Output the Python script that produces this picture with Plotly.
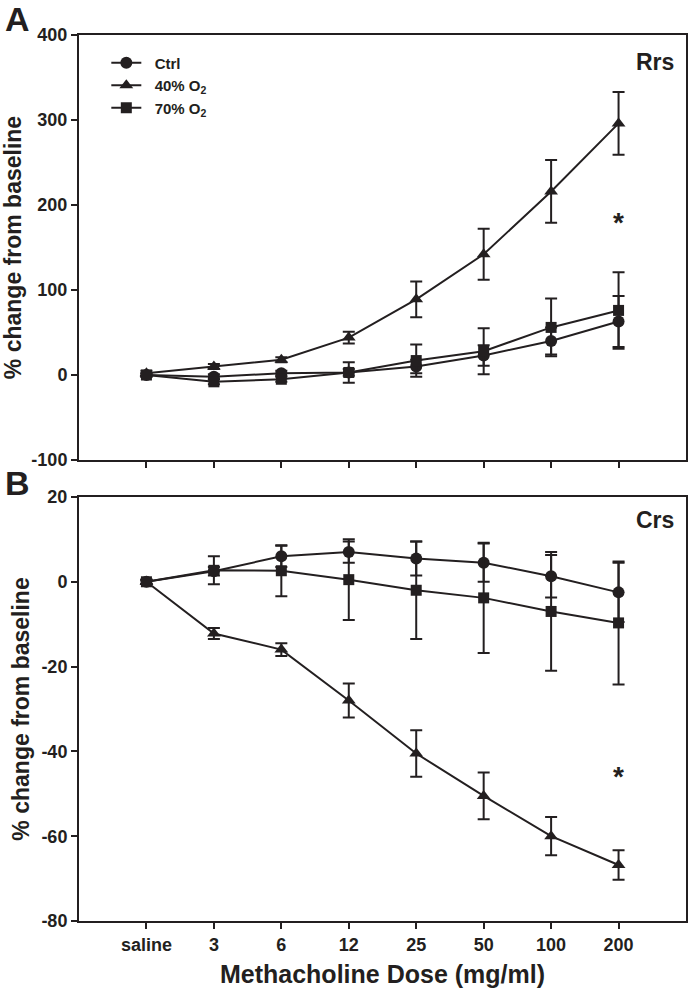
import plotly.graph_objects as go

doses = ["saline", "3", "6", "12", "25", "50", "100", "200"]
xi = list(range(len(doses)))

# Panel A: Rrs (% change from baseline)
rrs_ctrl = [0, -2, 2, 3, 10, 23, 40, 63]
rrs_ctrl_err = [2, 3, 3, 4, 8, 12, 16, 30]
rrs_40 = [2, 10, 18, 44, 89, 142, 216, 296]
rrs_40_err = [3, 3, 3, 7, 21, 30, 37, 37]
rrs_70 = [0, -8, -5, 3, 17, 28, 56, 76]
rrs_70_err = [2, 3, 3, 12, 19, 27, 34, 45]

# Panel B: Crs (% change from baseline)
crs_ctrl = [0, 2.5, 6, 7, 5.5, 4.5, 1.3, -2.5]
crs_ctrl_err = [0.5, 1, 2.5, 2.5, 4, 4.5, 5, 7]
crs_40 = [0, -12.2, -16, -28, -40.5, -50.5, -60, -66.8]
crs_40_err = [0.5, 1.3, 1.5, 4, 5.5, 5.5, 4.5, 3.5]
crs_70 = [0, 2.7, 2.6, 0.5, -2, -3.8, -7, -9.7]
crs_70_err = [0.5, 3.3, 6, 9.5, 11.5, 13, 14, 14.5]

ticksA = [-100, 0, 100, 200, 300, 400]
ticksB = [-80, -60, -40, -20, 0, 20]

names = ["&nbsp;&nbsp;Ctrl", "&nbsp;&nbsp;40% O<sub>2</sub>", "&nbsp;&nbsp;70% O<sub>2</sub>"]
symbols = ["circle", "triangle-up", "square"]

FONT = "Liberation Sans, Arial, sans-serif"
NARROW = "Liberation Sans Narrow, Arial Narrow, Liberation Sans, Arial, sans-serif"
BLACK = "#231f20"

fig = go.Figure()

seriesA = [(rrs_ctrl, rrs_ctrl_err), (rrs_40, rrs_40_err), (rrs_70, rrs_70_err)]
seriesB = [(crs_ctrl, crs_ctrl_err), (crs_40, crs_40_err), (crs_70, crs_70_err)]
msize = [12, 12, 11]

for i, (y, e) in enumerate(seriesA):
    fig.add_trace(go.Scatter(
        x=xi, y=y, mode="lines+markers", name=names[i],
        line=dict(color=BLACK, width=2),
        marker=dict(symbol=symbols[i], size=msize[i], color=BLACK),
        error_y=dict(type="data", array=e, visible=True, color=BLACK, thickness=2, width=6),
        xaxis="x", yaxis="y", showlegend=True,
    ))
for i, (y, e) in enumerate(seriesB):
    fig.add_trace(go.Scatter(
        x=xi, y=y, mode="lines+markers", name=names[i],
        line=dict(color=BLACK, width=2),
        marker=dict(symbol=symbols[i], size=msize[i], color=BLACK),
        error_y=dict(type="data", array=e, visible=True, color=BLACK, thickness=2, width=6),
        xaxis="x2", yaxis="y2", showlegend=False,
    ))

axis_common = dict(
    showline=True, linecolor=BLACK, linewidth=2, mirror=True,
    ticks="outside", ticklen=6, tickwidth=2, tickcolor=BLACK,
    showgrid=False, zeroline=False, automargin=False,
    tickfont=dict(family=NARROW, size=18, color=BLACK, weight="bold"),
)

ytitle_font = dict(family=FONT, size=23, color=BLACK, weight="bold")

fig.update_layout(
    width=688, height=997,
    margin=dict(l=79, r=2, t=35, b=76),
    paper_bgcolor="white", plot_bgcolor="white",
    showlegend=True,
    legend=dict(x=0.045, y=0.987, xanchor="left", yanchor="top",
                bgcolor="rgba(0,0,0,0)", tracegroupgap=0, itemwidth=30,
                font=dict(family=FONT, size=15, color=BLACK, weight="bold")),
    xaxis=dict(domain=[0, 1], anchor="y", range=[-1, 8], tickvals=xi,
               showticklabels=False, **axis_common),
    yaxis=dict(domain=[0.5203, 1.0], anchor="x", range=[-100, 400],
               tickvals=ticksA, ticktext=[str(v) for v in ticksA],
               title=dict(text="% change from baseline", standoff=5, font=ytitle_font),
               **axis_common),
    xaxis2=dict(domain=[0, 1], anchor="y2", range=[-1, 8], tickvals=xi,
                ticktext=doses,
                title=dict(text="Methacholine Dose (mg/ml)", standoff=12,
                           font=dict(family=FONT, size=25, color=BLACK, weight="bold")),
                **axis_common),
    yaxis2=dict(domain=[0, 0.4786], anchor="x2", range=[-80, 20],
                tickvals=ticksB, ticktext=[str(v) for v in ticksB],
                title=dict(text="% change from baseline", standoff=5, font=ytitle_font),
                **axis_common),
)

annotations = [
    dict(text="A", x=-0.125, y=1.018, xref="paper", yref="paper", xanchor="left",
         yanchor="middle", showarrow=False,
         font=dict(family=FONT, size=34, color=BLACK, weight="bold")),
    dict(text="B", x=-0.125, y=0.494, xref="paper", yref="paper", xanchor="left",
         yanchor="middle", showarrow=False,
         font=dict(family=FONT, size=34, color=BLACK, weight="bold")),
    dict(text="Rrs", x=7.85, y=368, xref="x", yref="y", xanchor="right",
         yanchor="middle", showarrow=False,
         font=dict(family=FONT, size=23, color=BLACK, weight="bold")),
    dict(text="Crs", x=7.85, y=14.5, xref="x2", yref="y2", xanchor="right",
         yanchor="middle", showarrow=False,
         font=dict(family=FONT, size=23, color=BLACK, weight="bold")),
    dict(text="*", x=7, y=180, xref="x", yref="y", xanchor="center",
         yanchor="middle", showarrow=False,
         font=dict(family=FONT, size=28, color=BLACK, weight="bold")),
    dict(text="*", x=7, y=-46, xref="x2", yref="y2", xanchor="center",
         yanchor="middle", showarrow=False,
         font=dict(family=FONT, size=28, color=BLACK, weight="bold")),
]
fig.update_layout(annotations=annotations)

fig.write_html("out.html", config={"displayModeBar": False},
               post_script="document.body.style.margin='0';document.body.style.overflow='hidden';")
